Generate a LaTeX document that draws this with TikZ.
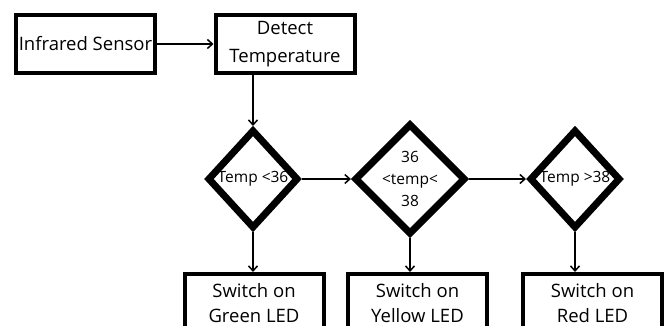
\documentclass[tikz,border=0pt]{standalone}
\usepackage{fontspec}
\setmainfont{Open Sans}
\usetikzlibrary{arrows.meta}
\usetikzlibrary{shapes.geometric}

\begin{document}
\begin{tikzpicture}[x=1pt,y=-1pt,>={Straight Barb[length=5pt,width=9pt]},
	box/.style={draw,line width=4pt,minimum width=139pt,minimum height=58pt,inner sep=0pt,align=center,font=\fontsize{18.5}{25}\selectfont},
	decision/.style={draw,diamond,line width=7pt,minimum width=91pt,minimum height=99pt,inner sep=0pt,align=center,font=\fontsize{15.5}{22}\selectfont},
	flow/.style={->,line width=1.5pt}]
		\useasboundingbox (0,0) rectangle (670,326);
		\node[box] (sensor) at (85.5,44) {Infrared Sensor};
		\node[box] (detect) at (285,44) {Detect\\[3pt]Temperature};
		\node[decision] (low) at (253,179) {Temp <36};
		\node[decision] (mid) at (410,179) {36\\<temp<\\38};
		\node[decision] (high) at (575,179) {Temp >38};
		\node[box,anchor=north] (green) at (254,272) {Switch on\\Green LED};
		\node[box,anchor=north] (yellow) at (417.5,272) {Switch on\\Yellow LED};
		\node[box,anchor=north] (red) at (592.5,272) {Switch on\\Red LED};
		\draw[flow] (sensor) -- (detect);
		\draw[flow] (detect.south -| low) -- (low.north);
		\draw[flow] (low) -- (mid);
		\draw[flow] (mid) -- (high);
		\draw[flow] (low.south) -- (green.north -| low);
		\draw[flow] (mid.south) -- (yellow.north -| mid);
		\draw[flow] (high.south) -- (red.north -| high);
		\end{tikzpicture}
\end{document}
